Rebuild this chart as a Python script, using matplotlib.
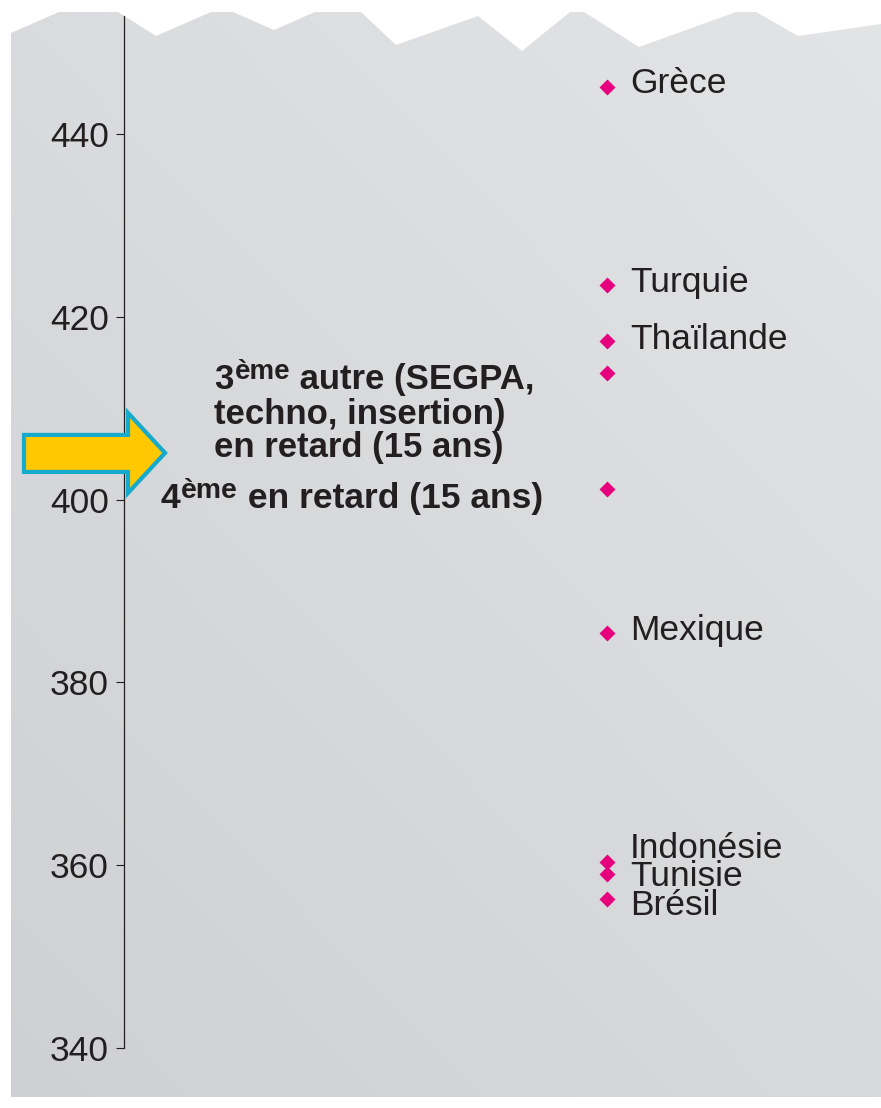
import matplotlib
matplotlib.use("Agg")
import matplotlib.pyplot as plt
import numpy as np
from matplotlib.patches import Polygon
from matplotlib import transforms

plt.rcParams['font.family'] = ['Liberation Sans', 'DejaVu Sans']

# scores
countries = ["Grèce", "Turquie", "Thaïlande", "", "", "Mexique", "Indonésie", "Tunisie", "Brésil"]
scores = [445.1, 423.5, 417.3, 413.8, 401.2, 385.4, 360.4, 359.0, 356.3]
y_ticks = [340, 360, 380, 400, 420, 440]

# label nudges in pixels (down positive), relative to the marker
label_dy = [6, 7, 8, 0, 0, 7, -4, 12, 16]

TXT = "#231f20"
PINK = "#e6007e"

fig = plt.figure(figsize=(8.81, 11.08), dpi=100)

# background panel with torn top edge, in pixel coords
bg = fig.add_axes([0, 0, 1, 1])
bg.set_xlim(0, 881)
bg.set_ylim(1108, 0)
bg.axis("off")
top_edge = [(11, 33), (59, 12), (118, 12), (156, 36), (211, 12), (233, 12), (274, 30),
            (315, 12), (361, 12), (396, 45), (478, 16), (522, 51), (570, 12), (584, 12),
            (639, 47), (736, 12), (756, 12), (798, 36), (881, 24)]
panel = Polygon(top_edge + [(881, 1097), (11, 1097)], closed=True, fc="none", ec="none")
bg.add_patch(panel)
gx, gy = np.meshgrid(np.linspace(0, 1, 200), np.linspace(0, 1, 250))
t = 0.45 * gx + 0.55 * (1 - gy)
dark = np.array([207, 208, 211]) / 255
light = np.array([227, 228, 230]) / 255
grad = dark[None, None, :] + (light - dark)[None, None, :] * t[:, :, None]
im = bg.imshow(grad, extent=(0, 881, 1108, 0), aspect="auto", interpolation="bilinear")
im.set_clip_path(panel)

# main axis
ax = fig.add_axes([124 / 881, 60 / 1108, 757 / 881, 1032 / 1108])
ax.patch.set_alpha(0)
ax.set_xlim(0, 1)
ax.set_ylim(340, 452.9)
for s in ["top", "right", "bottom"]:
    ax.spines[s].set_visible(False)
ax.spines["left"].set_color(TXT)
ax.spines["left"].set_linewidth(0.9)
ax.set_xticks([])
ax.set_yticks(y_ticks)
ax.tick_params(axis="y", length=5.8, width=0.8, color=TXT, labelsize=25.5,
               labelcolor=TXT, pad=5)

mx = 0.6387
ax.scatter([mx] * len(scores), scores, marker="D", s=66, color=PINK, zorder=4,
           linewidths=0)
for name, v, dy in zip(countries, scores, label_dy):
    if name:
        ax.annotate(name, xy=(mx, v), xytext=(22.5, -dy), textcoords="offset pixels",
                    fontsize=25.5, color=TXT, va="baseline", ha="left")

blend = transforms.blended_transform_factory(ax.transAxes, ax.transData)

# highlighting arrow
arrow = Polygon([(-0.1321, 407.07), (0.0053, 407.07), (0.0053, 409.48), (0.0542, 405.10),
                 (0.0053, 400.72), (0.0053, 403.02), (-0.1321, 403.02)],
                closed=True, transform=blend, clip_on=False, fc="#ffc800",
                ec="#16aacd", lw=3.0, joinstyle="miter", zorder=6)
ax.add_patch(arrow)


def sup_line(x, y, base, sup, rest, size):
    kw = dict(fontweight="bold", color=TXT, ha="left")
    t1 = ax.text(x, y, base, transform=blend, fontsize=size, va="center", **kw)
    t2 = ax.annotate(sup, xy=(1, 1), xycoords=t1, xytext=(0.8, 3),
                     textcoords="offset points", fontsize=size * 0.8, va="top", **kw)
    ax.annotate(rest, xy=(1, 0), xycoords=(t2, t1), fontsize=size, va="bottom", **kw)


bold = dict(fontweight="bold", color=TXT, ha="left", va="center", fontsize=25,
            transform=blend)
sup_line(0.1189, 413.1, "3", "ème", " autre (SEGPA,", 25)
ax.text(0.1189, 409.3, "techno, insertion)", **bold)
ax.text(0.1189, 405.7, "en retard (15 ans)", **bold)
sup_line(0.0476, 400.1, "4", "ème", " en retard (15 ans)", 25.5)

fig.savefig("out.png", dpi=100)
